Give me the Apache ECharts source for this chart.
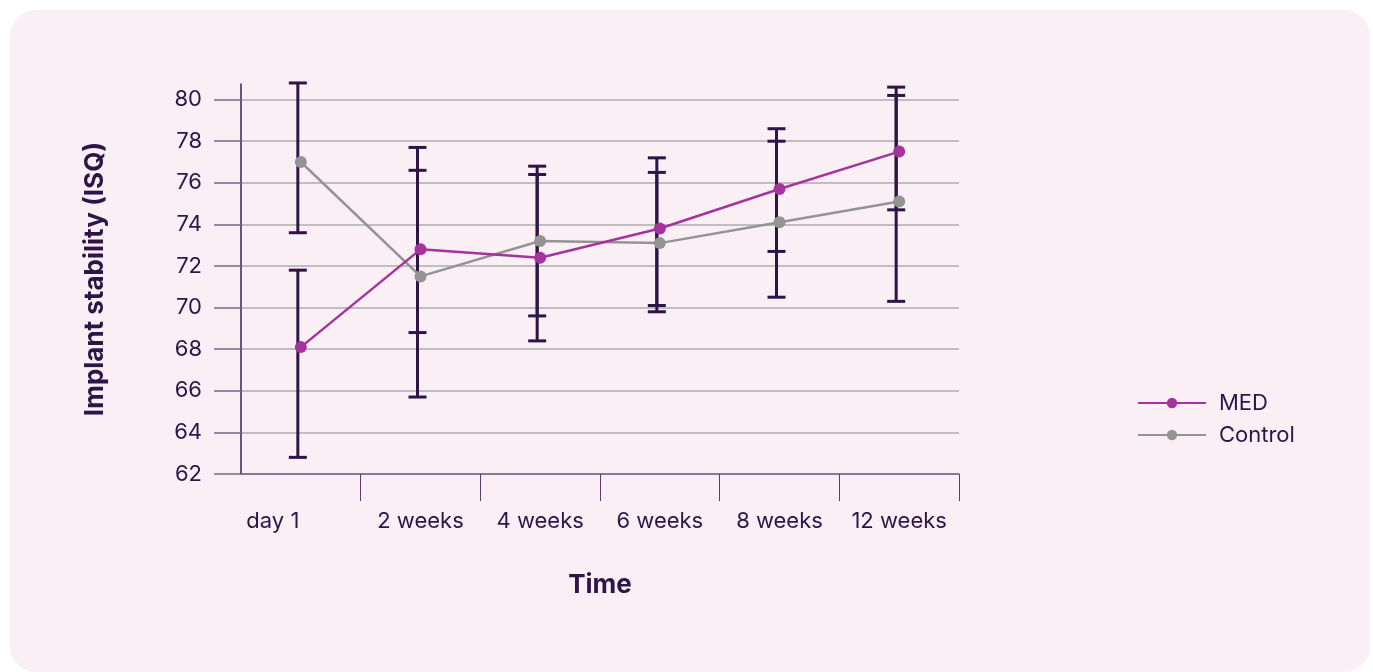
<!DOCTYPE html>
<html>
<head>
<meta charset="utf-8">
<script src="https://cdn.jsdelivr.net/npm/echarts@6/dist/echarts.min.js"></script>
<style>
  html, body { margin: 0; padding: 0; background: #ffffff; }
  #panel {
    position: absolute; left: 10px; top: 10px; width: 1360px; height: 662px;
    background: #f9eff5; border-radius: 26px;
  }
  #chart { position: absolute; left: 0; top: 0; width: 1373px; height: 672px; }
</style>
</head>
<body>
<div id="panel"></div>
<div id="chart"></div>
<script>
let categories = ["day 1", "2 weeks", "4 weeks", "6 weeks", "8 weeks", "12 weeks"];
let yTicks = [62, 64, 66, 68, 70, 72, 74, 76, 78, 80];

let medValues = [68.1, 72.8, 72.4, 73.8, 75.7, 77.5];
let medLow = [62.8, 65.7, 68.4, 69.8, 70.5, 70.3];
let medHigh = [71.8, 77.7, 76.8, 77.2, 78.6, 80.6];

let controlValues = [77.0, 71.5, 73.2, 73.1, 74.1, 75.1];
let controlLow = [73.6, 68.8, 69.6, 70.1, 72.7, 74.7];
let controlHigh = [80.8, 76.6, 76.4, 76.5, 78.0, 80.2];

let textColor = "#2e1447";
let barColor = "#2e1447";

let chart = echarts.init(document.getElementById("chart"));

function errorBar(name, low, high) {
    return {
        name: name + " error",
        type: "custom",
        z: 1,
        silent: true,
        data: categories.map((c, i) => [i, low[i], high[i]]),
        renderItem: (params, api) => {
            let lowPt = api.coord([api.value(0), api.value(1)]);
            let highPt = api.coord([api.value(0), api.value(2)]);
            let x = lowPt[0] - 3;
            let half = 9;
            let style = { stroke: barColor, lineWidth: 3 };
            return {
                type: "group",
                children: [
                    { type: "line", shape: { x1: x, y1: highPt[1], x2: x, y2: lowPt[1] }, style },
                    { type: "line", shape: { x1: x - half, y1: highPt[1], x2: x + half, y2: highPt[1] }, style },
                    { type: "line", shape: { x1: x - half, y1: lowPt[1], x2: x + half, y2: lowPt[1] }, style }
                ]
            };
        }
    };
}

// first label sits left of its band centre in the original
let xData = categories.map((c, i) => i === 0
    ? { value: c, textStyle: { padding: [0, 56, 0, 0] } }
    : c);

let option = {
    backgroundColor: "transparent",
    textStyle: { fontFamily: "Inter", color: textColor },
    grid: { left: 241, right: 414, top: 84, bottom: 198 },
    legend: {
        orient: "vertical",
        left: 1137,
        top: 392,
        padding: 0,
        itemWidth: 68,
        itemHeight: 13,
        itemGap: 10,
        data: ["MED", "Control"],
        textStyle: { fontFamily: "Inter", fontSize: 22, color: textColor, padding: [0, 0, 0, 8] }
    },
    xAxis: {
        type: "category",
        data: xData,
        boundaryGap: true,
        name: "Time",
        nameLocation: "middle",
        nameGap: 98,
        nameTextStyle: { fontFamily: "Inter", fontSize: 26, fontWeight: "bold", color: textColor },
        axisLine: { lineStyle: { color: "#7a5f8a", width: 1.5 } },
        axisTick: {
            show: true,
            interval: idx => idx > 0,
            length: 27,
            lineStyle: { color: "#5a3d6e", width: 1 }
        },
        axisLabel: { fontSize: 22, color: textColor, margin: 36, interval: 0 },
        splitLine: { show: false }
    },
    yAxis: {
        type: "value",
        min: 62,
        max: 80.75,
        interval: 2,
        name: "Implant stability (ISQ)",
        nameLocation: "middle",
        nameGap: 133,
        nameTextStyle: { fontFamily: "Inter", fontSize: 26, fontWeight: "bold", color: textColor },
        axisLine: { show: true, lineStyle: { color: "#3d1f55", width: 1.5 } },
        axisTick: {
            show: true,
            customValues: yTicks,
            length: 27,
            lineStyle: { color: "#7a6688", width: 1.5 }
        },
        axisLabel: {
            customValues: yTicks,
            fontSize: 22,
            color: textColor,
            margin: 39
        },
        splitLine: { show: true, lineStyle: { color: "#adadad", width: 1.5 } }
    },
    series: [
        errorBar("MED", medLow, medHigh),
        errorBar("Control", controlLow, controlHigh),
        {
            name: "Control",
            type: "line",
            z: 3,
            data: controlValues,
            symbol: "circle",
            symbolSize: 12,
            lineStyle: { color: "#949494", width: 2.5 },
            itemStyle: { color: "#949494" }
        },
        {
            name: "MED",
            type: "line",
            z: 4,
            data: medValues,
            symbol: "circle",
            symbolSize: 12,
            lineStyle: { color: "#a4349c", width: 2.5 },
            itemStyle: { color: "#a4349c" }
        }
    ]
};

chart.setOption(option);
</script>
</body>
</html>
